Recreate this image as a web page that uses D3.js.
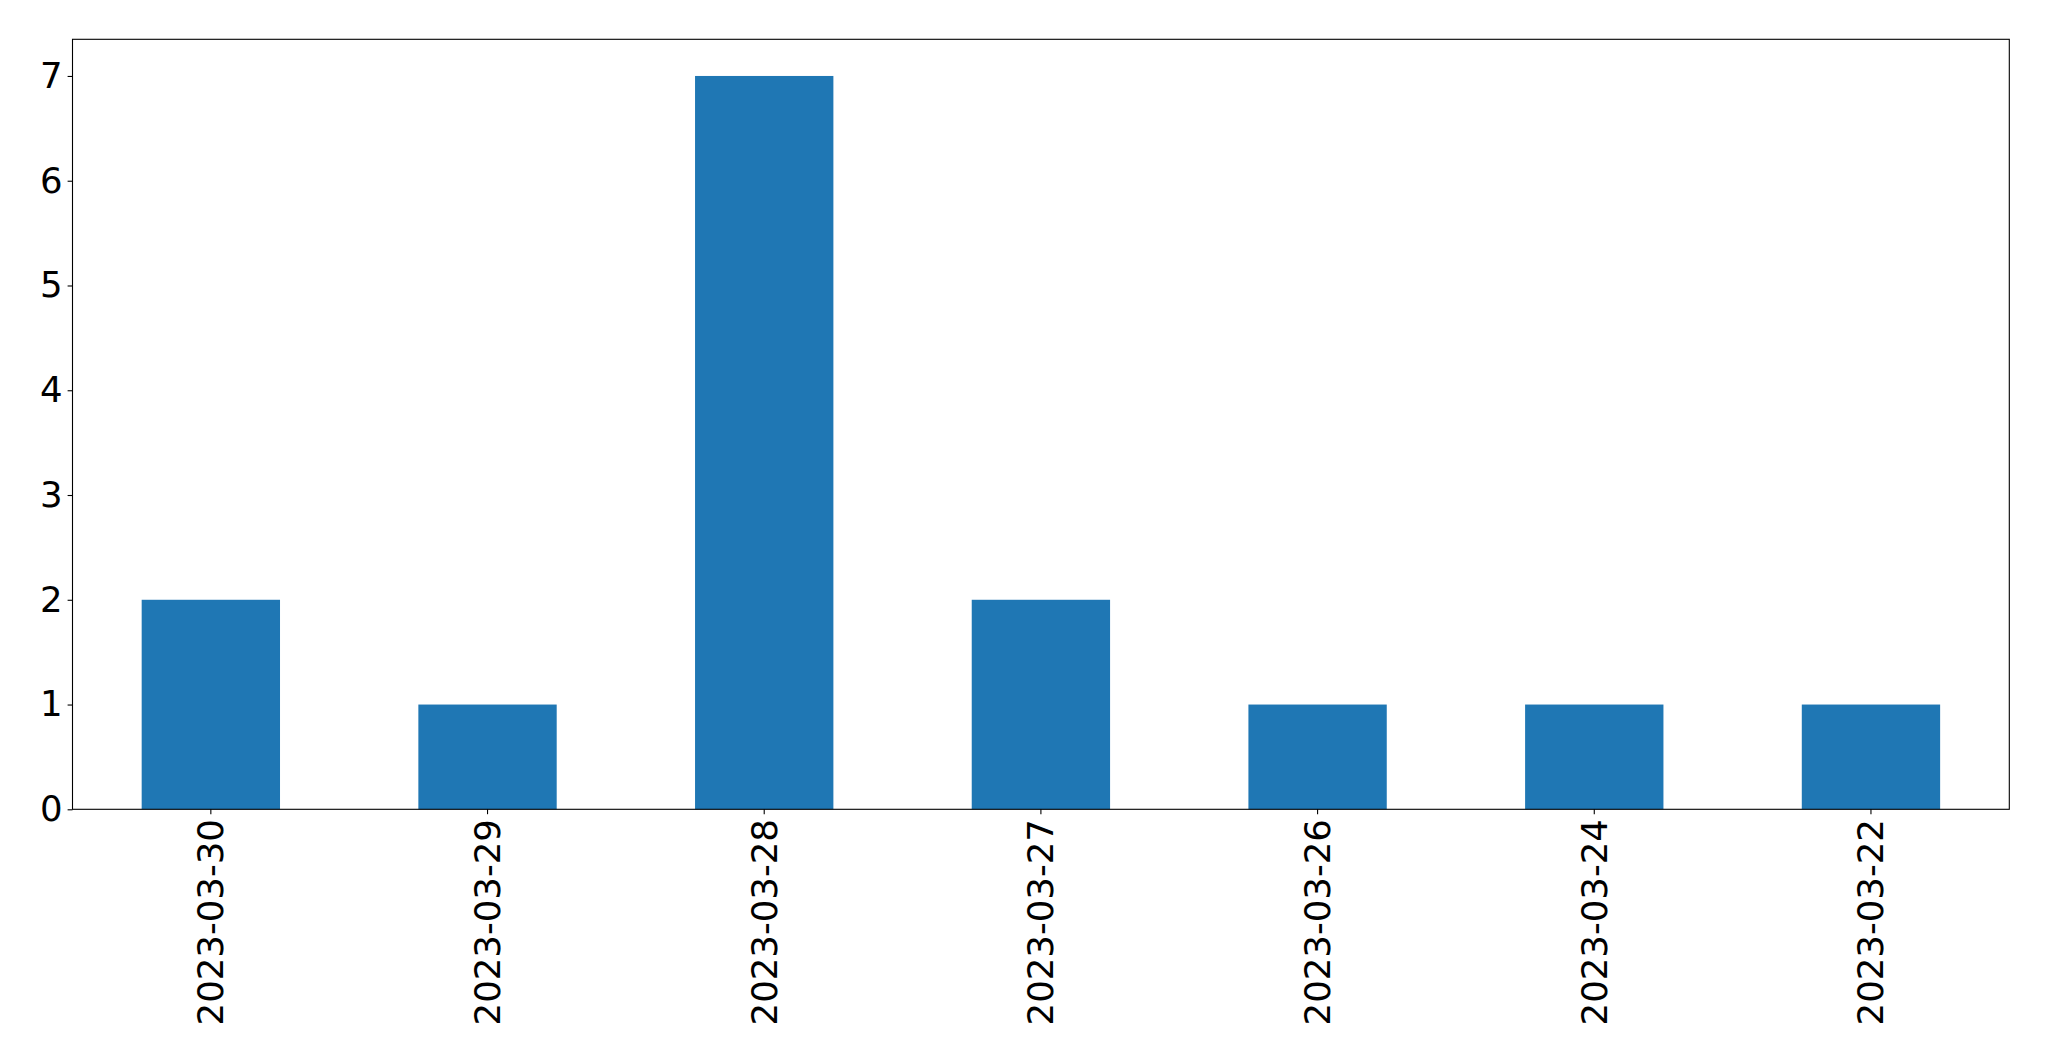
<!DOCTYPE html>
<html><head><meta charset="utf-8">
<script src="https://cdn.jsdelivr.net/npm/d3@7"></script>
<style>body{margin:0;background:#fff}svg{display:block}</style>
</head><body>
<script>
const categories = ["2023-03-30","2023-03-29","2023-03-28","2023-03-27","2023-03-26","2023-03-24","2023-03-22"];
const values = [2,1,7,2,1,1,1];
const yTicks = [0,1,2,3,4,5,6,7];

const W = 2049, H = 1061;
const m = {left:72.5, right:2049-2009.3, top:39.3, bottom:1061-809.3};
const svg = d3.select("body").append("svg").attr("width",W).attr("height",H);
const iw = W-m.left-m.right, ih = H-m.top-m.bottom;
const g = svg.append("g").attr("transform",`translate(${m.left},${m.top})`);

const x = d3.scaleBand().domain(categories).range([0,iw]).paddingInner(0.5).paddingOuter(0.25);
const y = d3.scaleLinear().domain([0,7.35]).range([ih,0]);

g.selectAll("rect.bar").data(values).join("rect").attr("class","bar")
  .attr("x",(d,i)=>x(categories[i])).attr("width",x.bandwidth())
  .attr("y",d=>y(d)).attr("height",d=>ih-y(d)).attr("fill","#1f77b4");

const fs = 35.5;
const yAxis = g.append("g").call(d3.axisLeft(y).tickValues(yTicks).tickFormat(d3.format("d")).tickSize(4.9).tickPadding(4.9));
const xAxis = g.append("g").attr("transform",`translate(0,${ih})`).call(d3.axisBottom(x).tickSize(4.9).tickPadding(4.9));
[yAxis,xAxis].forEach(a=>{
  a.select(".domain").remove();
  a.selectAll("line").attr("stroke","#000").attr("stroke-width",1.1);
  a.selectAll("text").attr("fill","#000").style("font-family","DejaVu Sans").style("font-size",fs+"px");
});
xAxis.selectAll("text")
  .attr("transform","rotate(-90)")
  .attr("text-anchor","end")
  .attr("x",-9.8).attr("y",0).attr("dy","0.35em");

g.append("rect").attr("x",0).attr("y",0).attr("width",iw).attr("height",ih)
  .attr("fill","none").attr("stroke","#000").attr("stroke-width",1.1);
</script>
</body></html>
